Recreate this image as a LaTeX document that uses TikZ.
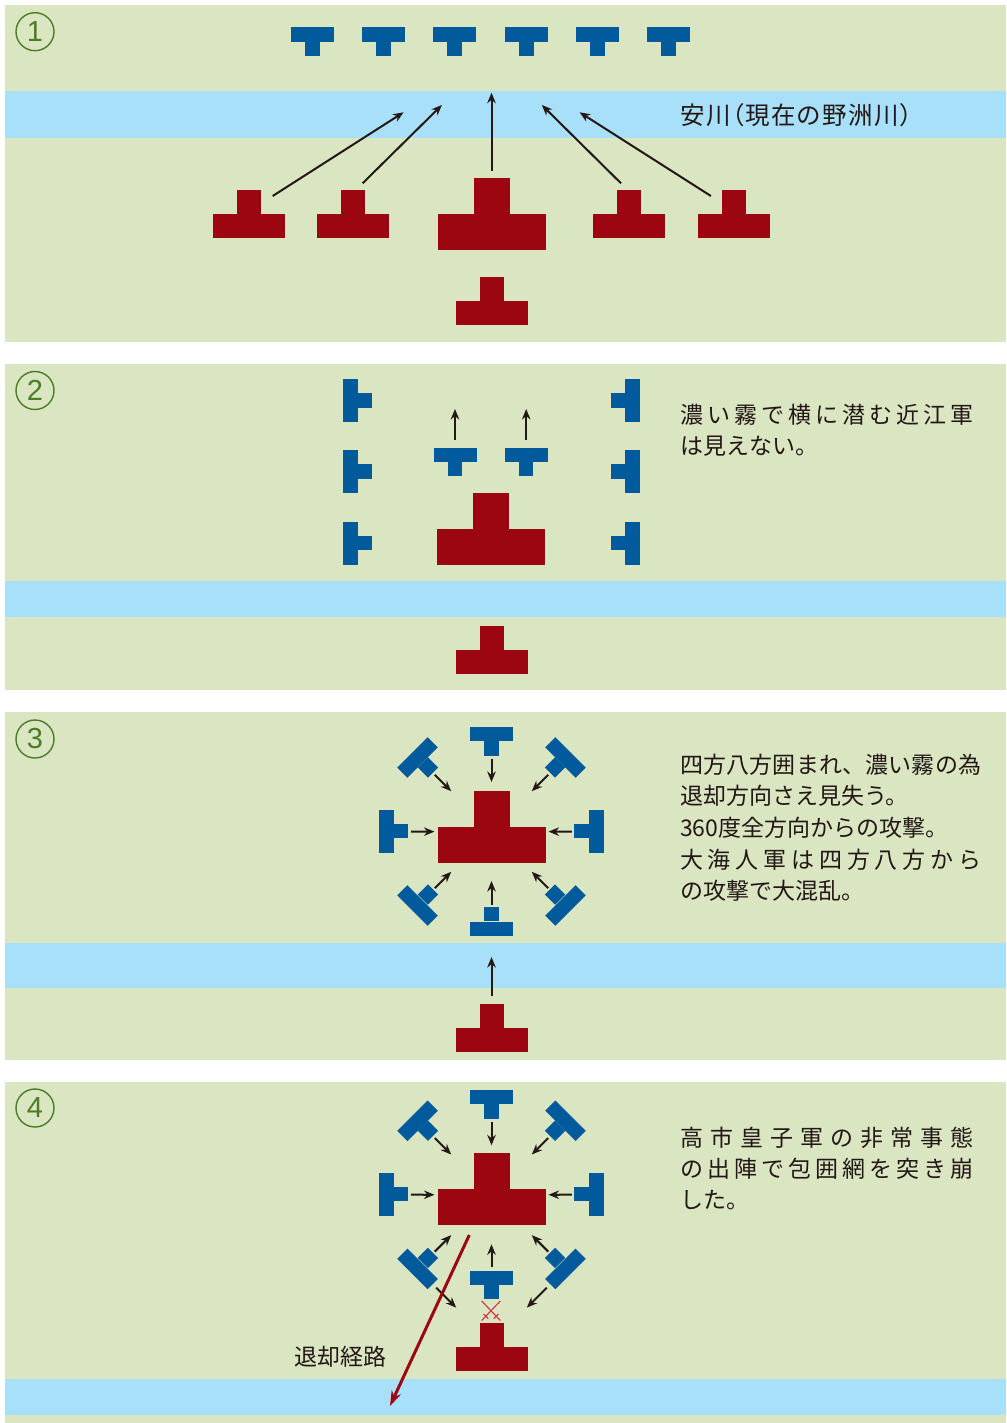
\documentclass[tikz,border=0pt]{standalone}
\usepackage{fontspec}
\setmainfont{Noto Sans CJK JP}
\newfontfamily\numfont{Liberation Sans}
\newfontfamily\paltfont[RawFeature=+palt]{Noto Sans CJK JP}
\usetikzlibrary{positioning,arrows.meta}
\definecolor{field}{HTML}{DAE5C2}
\definecolor{river}{HTML}{A8DFF9}
\definecolor{unitblue}{HTML}{005A9B}
\definecolor{unitred}{HTML}{9B0610}
\definecolor{numgreen}{HTML}{4B7D24}
\definecolor{ink}{HTML}{231815}
\definecolor{clash}{HTML}{D7263A}
\newcommand\spreadfirst[1]{#1\spreadnext}
\newcommand\spreadnext[1]{\ifx#1\relax\else\hfill#1\expandafter\spreadnext\fi}
\newcommand\jline[2]{\makebox[#1][s]{\spreadfirst#2\relax}}
\begin{document}
\begin{tikzpicture}[x=1pt, y=-1pt, node distance=-0.5pt]
\tikzstyle{bluebar} = [rectangle, fill=unitblue, minimum width=43pt, minimum height=14.4pt, inner sep=0pt]
\tikzstyle{bluestem} = [rectangle, fill=unitblue, minimum width=14.4pt, minimum height=14.4pt, inner sep=0pt]
\tikzstyle{redbar} = [rectangle, fill=unitred, minimum width=72pt, minimum height=24pt, inner sep=0pt]
\tikzstyle{redstem} = [rectangle, fill=unitred, minimum width=24pt, minimum height=24pt, inner sep=0pt]
\tikzstyle{bigbar} = [rectangle, fill=unitred, minimum width=108pt, minimum height=36pt, inner sep=0pt]
\tikzstyle{bigstem} = [rectangle, fill=unitred, minimum width=36pt, minimum height=36pt, inner sep=0pt]
\tikzstyle{numcircle} = [circle, draw=numgreen, line width=1.4pt, minimum size=38pt, inner sep=0pt, text=numgreen, font=\numfont\fontsize{29}{29}\selectfont]
\tikzstyle{note} = [anchor=north west, inner sep=0pt, align=left, text=ink, font=\fontsize{23}{31}\selectfont]
\tikzstyle{plaintext} = [anchor=west, inner sep=0pt, text=ink, font=\fontsize{23}{23}\selectfont]
\tikzstyle{arrow} = [line width=2pt, draw=ink, ->, >={Stealth[length=10.5pt,width=8.5pt]}]
\tikzstyle{inward} = [arrow, shorten <=24.5pt, shorten >=57pt]
\tikzstyle{inwardv} = [arrow, shorten <=24.5pt, shorten >=49.5pt]
\tikzstyle{retreat} = [line width=3pt, draw=unitred, ->, >={Stealth[length=15pt,width=10pt]}]
\tikzstyle{sword} = [line width=1pt, draw=clash]
%
\fill[white] (0,0) rectangle (1006,1423);
\useasboundingbox (0,0) rectangle (1006,1423);
\fill[field] (5,5) rectangle (1006,341.5);
\fill[river] (5,91) rectangle (1006,138);
\fill[field] (5,364) rectangle (1006,689.5);
\fill[river] (5,581) rectangle (1006,617);
\fill[field] (5,712) rectangle (1006,1059.5);
\fill[river] (5,943) rectangle (1006,988);
\fill[field] (5,1082) rectangle (1006,1423);
\fill[river] (5,1379) rectangle (1006,1415);
%
\node (n1) [numcircle] at (35,31.7) {1};
\node (n2) [numcircle] at (35,390.5) {2};
\node (n3) [numcircle] at (35,739) {3};
\node (n4) [numcircle] at (35,1108) {4};
%
\node (p1b1) [bluebar] at (312.5,34.5) {}; \node (p1b1s) [bluestem, below=of p1b1] {};
\node (p1b2) [bluebar] at (383.5,34.5) {}; \node (p1b2s) [bluestem, below=of p1b2] {};
\node (p1b3) [bluebar] at (454.5,34.5) {}; \node (p1b3s) [bluestem, below=of p1b3] {};
\node (p1b4) [bluebar] at (526.5,34.5) {}; \node (p1b4s) [bluestem, below=of p1b4] {};
\node (p1b5) [bluebar] at (597.5,34.5) {}; \node (p1b5s) [bluestem, below=of p1b5] {};
\node (p1b6) [bluebar] at (668.5,34.5) {}; \node (p1b6s) [bluestem, below=of p1b6] {};
\node (p1r1) [redbar] at (248.6,225.9) {}; \node (p1r1s) [redstem, above=of p1r1] {};
\node (p1r2) [redbar] at (353.2,225.9) {}; \node (p1r2s) [redstem, above=of p1r2] {};
\node (p1big) [bigbar] at (491.5,231.9) {}; \node (p1bigs) [bigstem, above=of p1big] {};
\node (p1r4) [redbar] at (629.4,225.9) {}; \node (p1r4s) [redstem, above=of p1r4] {};
\node (p1r5) [redbar] at (734,225.9) {}; \node (p1r5s) [redstem, above=of p1r5] {};
\node (p1rear) [redbar] at (491.5,312.5) {}; \node (p1rears) [redstem, above=of p1rear] {};
\node (yasu) [plaintext, font=\paltfont\fontsize{24.5}{24.5}\selectfont] at (680,115) {\jline{232pt}{安川（現在の野洲川）}};
%
\coordinate (p1go1) at (272.7,196); \coordinate (p1to1) at (403.6,112.3);
\coordinate (p1go2) at (362.6,183.3); \coordinate (p1to2) at (441.9,105);
\coordinate (p1go3) at (491.5,170.7); \coordinate (p1to3) at (491.5,92.7);
\coordinate (p1go4) at (621,183.3); \coordinate (p1to4) at (541.8,105);
\coordinate (p1go5) at (710.9,196); \coordinate (p1to5) at (579.6,112.3);
\draw [arrow] (p1go1) -- (p1to1);
\draw [arrow] (p1go2) -- (p1to2);
\draw [arrow] (p1go3) -- (p1to3);
\draw [arrow] (p1go4) -- (p1to4);
\draw [arrow] (p1go5) -- (p1to5);
%
\node (p2m1) [bluebar] at (455,454.7) {}; \node (p2m1s) [bluestem, below=of p2m1] {};
\node (p2m2) [bluebar] at (526.2,454.7) {}; \node (p2m2s) [bluestem, below=of p2m2] {};
\node (p2l1) [bluebar, rotate=90] at (350.3,400.8) {}; \node (p2l1s) [bluestem, rotate=90, below=of p2l1] {};
\node (p2l2) [bluebar, rotate=90] at (350.3,471.8) {}; \node (p2l2s) [bluestem, rotate=90, below=of p2l2] {};
\node (p2l3) [bluebar, rotate=90] at (350.3,543.2) {}; \node (p2l3s) [bluestem, rotate=90, below=of p2l3] {};
\node (p2r1) [bluebar, rotate=-90] at (632.5,400.8) {}; \node (p2r1s) [bluestem, rotate=-90, below=of p2r1] {};
\node (p2r2) [bluebar, rotate=-90] at (632.5,471.8) {}; \node (p2r2s) [bluestem, rotate=-90, below=of p2r2] {};
\node (p2r3) [bluebar, rotate=-90] at (632.5,543.2) {}; \node (p2r3s) [bluestem, rotate=-90, below=of p2r3] {};
\node (p2big) [bigbar] at (491.3,546.5) {}; \node (p2bigs) [bigstem, above=of p2big] {};
\node (p2rear) [redbar] at (491.5,662.3) {}; \node (p2rears) [redstem, above=of p2rear] {};
\coordinate (p2go1) at (455,440); \coordinate (p2to1) at (455,409);
\coordinate (p2go2) at (526.2,440); \coordinate (p2to2) at (526.2,409);
\draw [arrow] (p2go1) -- (p2to1);
\draw [arrow] (p2go2) -- (p2to2);
\node (note2) [note] at (680,403.5) {\jline{293pt}{濃い霧で横に潜む近江軍}\\は見えない。};
%
\coordinate (p3c) at (491.5,831.5);
\node (p3t) [bluebar] at (491.5,734.2) {}; \node (p3ts) [bluestem, below=of p3t] {};
\node (p3b) [bluebar, rotate=180] at (491.5,929.2) {}; \node (p3bs) [bluestem, rotate=180, below=of p3b] {};
\node (p3l) [bluebar, rotate=90] at (386.3,831.7) {}; \node (p3ls) [bluestem, rotate=90, below=of p3l] {};
\node (p3r) [bluebar, rotate=-90] at (596.3,831.7) {}; \node (p3rs) [bluestem, rotate=-90, below=of p3r] {};
\node (p3ul) [bluebar, rotate=45] at (417.5,757.5) {}; \node (p3uls) [bluestem, rotate=45, below=of p3ul] {};
\node (p3ur) [bluebar, rotate=-45] at (565.5,757.5) {}; \node (p3urs) [bluestem, rotate=-45, below=of p3ur] {};
\node (p3ll) [bluebar, rotate=135] at (417.5,905.5) {}; \node (p3lls) [bluestem, rotate=135, below=of p3ll] {};
\node (p3lr) [bluebar, rotate=-135] at (565.5,905.5) {}; \node (p3lrs) [bluestem, rotate=-135, below=of p3lr] {};
\node (p3big) [bigbar] at (491.5,844.5) {}; \node (p3bigs) [bigstem, above=of p3big] {};
\node (p3rear) [redbar] at (491.5,1039.7) {}; \node (p3rears) [redstem, above=of p3rear] {};
\draw [inwardv] (p3t.center) -- (p3c);
\draw [inwardv] (p3b.center) -- (p3c);
\draw [inward] (p3l.center) -- (p3c);
\draw [inward] (p3r.center) -- (p3c);
\draw [inward] (p3ul.center) -- (p3c);
\draw [inward] (p3ur.center) -- (p3c);
\draw [inward] (p3ll.center) -- (p3c);
\draw [inward] (p3lr.center) -- (p3c);
\coordinate (p3go) at (491.5,996); \coordinate (p3to) at (491.5,957);
\draw [arrow] (p3go) -- (p3to);
\node (note3) [note, font=\fontsize{23}{31.7}\selectfont] at (680,753.5) {\jline{301pt}{四方八方囲まれ、濃い霧の為}\\退却方向さえ見失う。\\360度全方向からの攻撃。\\\jline{301pt}{大海人軍は四方八方から}\\の攻撃で大混乱。};
%
\coordinate (p4c) at (491.5,1194.8);
\coordinate (p4rc) at (491.5,1343);
\node (p4t) [bluebar] at (491.5,1097) {}; \node (p4ts) [bluestem, below=of p4t] {};
\node (p4l) [bluebar, rotate=90] at (386.3,1194.7) {}; \node (p4ls) [bluestem, rotate=90, below=of p4l] {};
\node (p4r) [bluebar, rotate=-90] at (596.3,1194.7) {}; \node (p4rs) [bluestem, rotate=-90, below=of p4r] {};
\node (p4ul) [bluebar, rotate=45] at (417.5,1120.8) {}; \node (p4uls) [bluestem, rotate=45, below=of p4ul] {};
\node (p4ur) [bluebar, rotate=-45] at (565.5,1120.8) {}; \node (p4urs) [bluestem, rotate=-45, below=of p4ur] {};
\node (p4ll) [bluebar, rotate=135] at (417.5,1268.9) {}; \node (p4lls) [bluestem, rotate=135, below=of p4ll] {};
\node (p4lr) [bluebar, rotate=-135] at (565.5,1268.9) {}; \node (p4lrs) [bluestem, rotate=-135, below=of p4lr] {};
\node (p4m) [bluebar] at (491.5,1277.8) {}; \node (p4ms) [bluestem, below=of p4m] {};
\node (p4big) [bigbar] at (491.5,1207.3) {}; \node (p4bigs) [bigstem, above=of p4big] {};
\node (p4rear) [redbar] at (491.5,1359.3) {}; \node (p4rears) [redstem, above=of p4rear] {};
\draw [inwardv] (p4t.center) -- (p4c);
\draw [inward] (p4l.center) -- (p4c);
\draw [inward] (p4r.center) -- (p4c);
\draw [inward] (p4ul.center) -- (p4c);
\draw [inward] (p4ur.center) -- (p4c);
\draw [inward] (p4ll.center) -- (p4c);
\draw [inward] (p4lr.center) -- (p4c);
\draw [arrow, shorten <=26.5pt, shorten >=50pt] (p4ll.center) -- (p4rc);
\draw [arrow, shorten <=26.5pt, shorten >=50pt] (p4lr.center) -- (p4rc);
\draw [arrow, shorten <=10.5pt, shorten >=49.5pt] (p4m.center) -- (p4c);
\coordinate (p4x) at (491,1311);
\draw [sword] ([shift={(-9.3,-10)}]p4x) -- ([shift={(9.3,9.5)}]p4x);
\draw [sword] ([shift={(9.3,-10)}]p4x) -- ([shift={(-9.3,9.5)}]p4x);
\draw [sword] ([shift={(2.8,7.6)}]p4x) -- ([shift={(7.4,3)}]p4x);
\draw [sword] ([shift={(-2.8,7.6)}]p4x) -- ([shift={(-7.4,3)}]p4x);
\coordinate (p4out) at (469.3,1235); \coordinate (p4away) at (390,1406);
\draw [retreat] (p4out) -- (p4away);
\node (route) [plaintext] at (294,1357) {退却経路};
\node (note4) [note] at (680,1126.8) {\jline{293pt}{高市皇子軍の非常事態}\\\jline{293pt}{の出陣で包囲網を突き崩}\\した。};
\end{tikzpicture}
\end{document}
